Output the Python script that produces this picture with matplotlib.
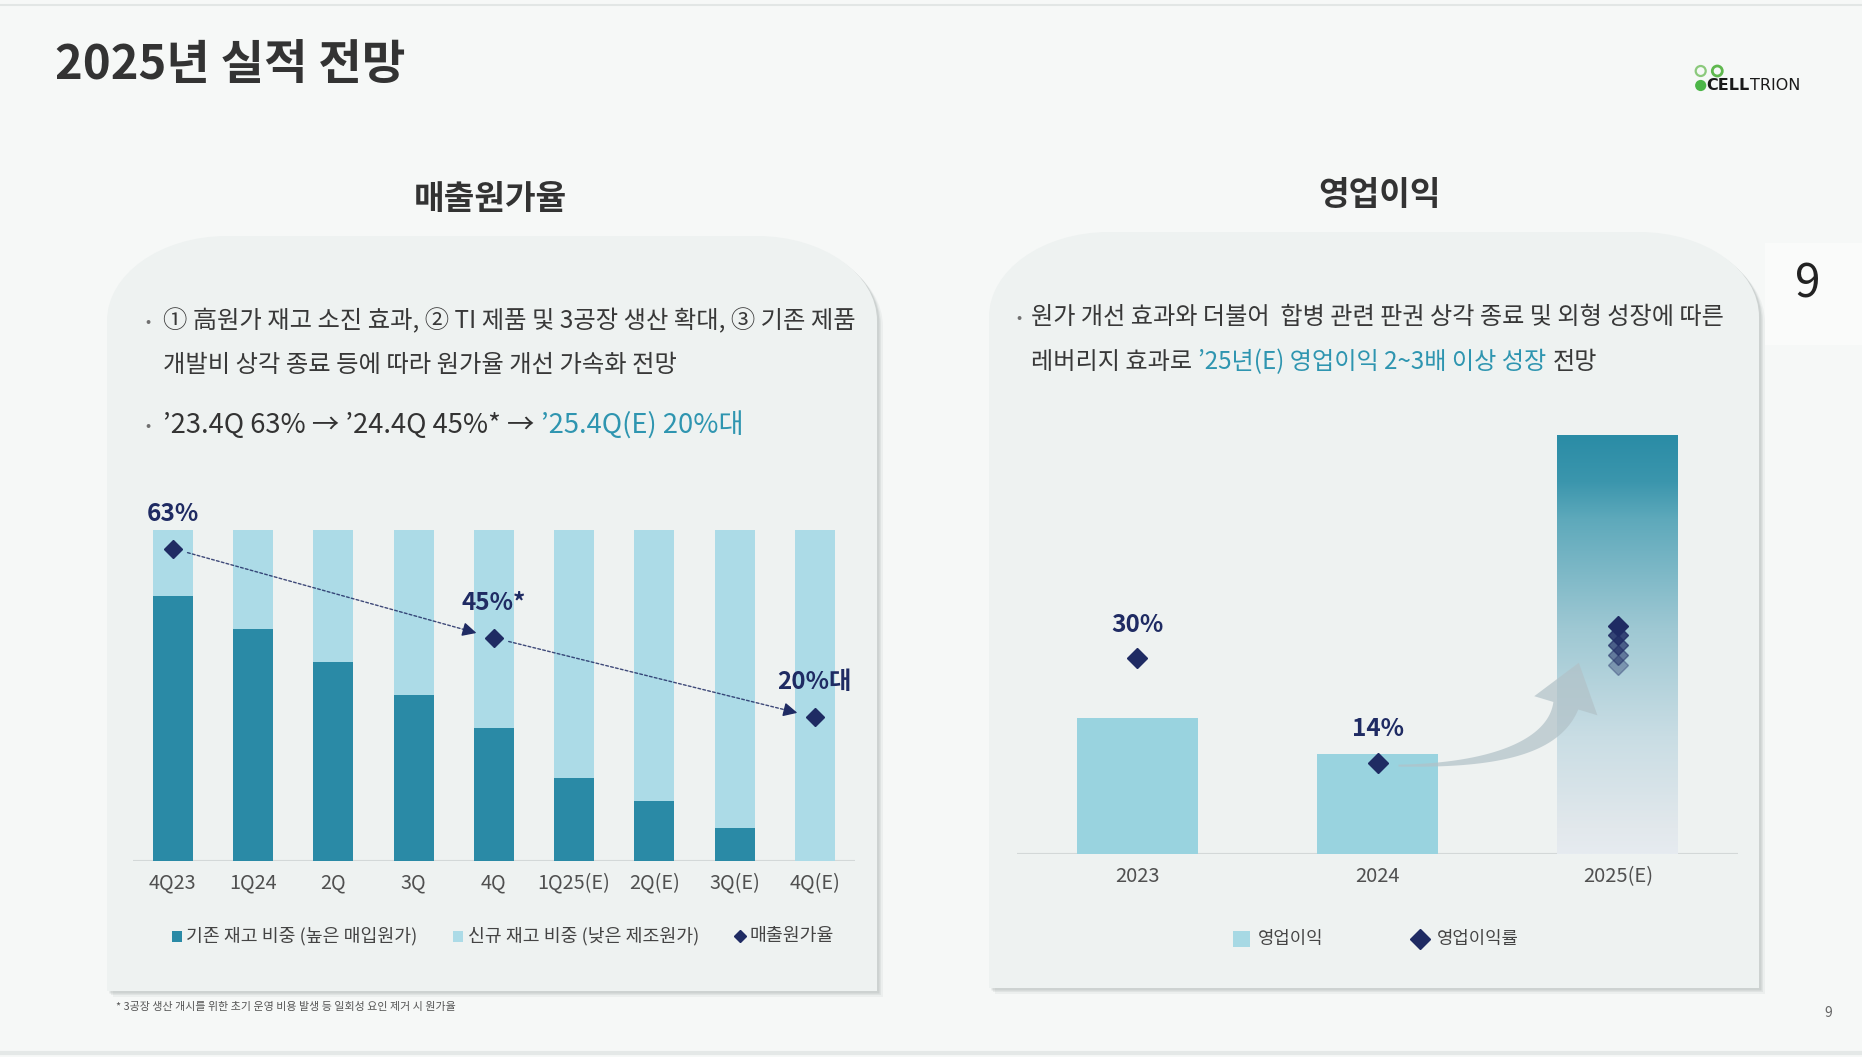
import numpy as np
import matplotlib
matplotlib.use("Agg")
import matplotlib.pyplot as plt
from matplotlib.patches import PathPatch, Rectangle, Circle, Polygon
from matplotlib.path import Path
from matplotlib.colors import LinearSegmentedColormap
from matplotlib.transforms import IdentityTransform

plt.rcParams['font.family'] = ['Noto Sans CJK KR', 'DejaVu Sans']

# ---------------- data ----------------
quarters = ['4Q23', '1Q24', '2Q', '3Q', '4Q', '1Q25(E)', '2Q(E)', '3Q(E)', '4Q(E)']
old_share = [80, 70, 60, 50, 40, 25, 18, 10, 0]        # 기존 재고 비중
new_share = [20, 30, 40, 50, 60, 75, 82, 90, 100]      # 신규 재고 비중
cogs_idx = [0, 4, 8]
cogs_ratio = [63, 45, 29]                              # 매출원가율
cogs_labels = ['63%', '45%*', '20%대']

years = ['2023', '2024', '2025(E)']
op_profit = [651, 480, 2010]                           # 영업이익
op_margin = [30, 14]                                   # 영업이익률
op_margin_labels = ['30%', '14%']
margin_2025_band = [29, 30.5, 32, 33.5, 35]

# ---------------- style ----------------
W, H = 1862, 1057
DARK = '#2a8aa6'
LIGHT = '#acdbe7'
OPBAR = '#99d3df'
NAVY = '#1f2b63'
TEAL = '#2e95b0'
TXT = '#383838'
CARD = '#eef2f1'
BODY_W = 'medium'

fig = plt.figure(figsize=(W / 100, H / 100), dpi=100)
fig.patch.set_facecolor('#f6f8f7')
bg = fig.add_axes([0, 0, 1, 1])
bg.set_xlim(0, W)
bg.set_ylim(H, 0)
bg.axis('off')
bg.set_zorder(0)

bg.plot([0, W], [5, 5], color='#e2e6e5', lw=1.5)
bg.plot([0, W], [1053, 1053], color='#e4e8e7', lw=3)
bg.add_patch(Rectangle((1765, 243), 97, 102, fc='white', ec='none', alpha=0.45))


def card_path(x0, x1, y0, y1, rx, ry):
    k = 0.5523
    verts = [(x0, y1), (x0, y0 + ry), (x0, y0 + ry - k * ry), (x0 + rx - k * rx, y0), (x0 + rx, y0),
             (x1 - rx, y0), (x1 - rx + k * rx, y0), (x1, y0 + ry - k * ry), (x1, y0 + ry),
             (x1, y1), (x0, y1)]
    codes = [Path.MOVETO, Path.LINETO, Path.CURVE4, Path.CURVE4, Path.CURVE4,
             Path.LINETO, Path.CURVE4, Path.CURVE4, Path.CURVE4, Path.LINETO, Path.CLOSEPOLY]
    return Path(verts, codes)


def card(x0, x1, y0, y1, rx, ry):
    for d, a in [(6, 0.10), (4, 0.15), (2.5, 0.25)]:
        bg.add_patch(PathPatch(card_path(x0 + d, x1 + d, y0 + d, y1 + d, rx, ry),
                               fc='#9aa2a2', ec='none', alpha=a))
    bg.add_patch(PathPatch(card_path(x0, x1, y0, y1, rx, ry), fc=CARD, ec='none'))


card(107, 877, 236, 991, 120, 85)
card(989, 1759, 232, 988, 120, 85)

renderer = fig.canvas.get_renderer()


def seg_text(x, y, segs, size, weight='normal'):
    for s, c, gap in segs:
        t = bg.text(x, y, s, color=c, fontsize=size, fontweight=weight, ha='left', va='center')
        bb = t.get_window_extent(renderer=renderer)
        x += bb.width + gap * size * 100 / 72


# titles
bg.text(55, 65, '2025년 실적 전망', fontsize=34, fontweight='bold', color='#333333', ha='left', va='center')
bg.text(490, 200, '매출원가율', fontsize=24, fontweight='bold', color='#333333', ha='center', va='center')
bg.text(1380, 195, '영업이익', fontsize=24, fontweight='bold', color='#333333', ha='center', va='center')

# logo
bg.add_patch(Circle((1700.7, 71), 5.0, fill=False, ec='#8bc97c', lw=1.6))
bg.add_patch(Circle((1717.3, 71), 5.0, fill=False, ec='#5fb84e', lw=2.0))
bg.add_patch(Circle((1700.7, 85.5), 5.6, fc='#4cb648', ec='none'))
t = bg.text(1706.5, 86, 'CELL', fontsize=11.5, fontweight='bold', family='DejaVu Sans',
            color='#1a1a1a', ha='left', va='center')
bb = t.get_window_extent(renderer=renderer)
bg.text(1706.5 + bb.width, 86, 'TRION', fontsize=11.5, family='DejaVu Sans',
        color='#1a1a1a', ha='left', va='center')

bg.text(1808, 284, '9', fontsize=33, color='#222222', ha='center', va='center')
bg.text(1828, 1013, '9', fontsize=10, color='#666666', ha='center', va='center')

# left bullets
bg.text(148.5, 322, '•', fontsize=11, color='#707070', ha='center', va='center')
bg.text(163, 321.5, '① 高원가 재고 소진 효과, ② TI 제품 및 3공장 생산 확대, ③ 기존 제품',
        fontsize=17.5, fontweight=BODY_W, color=TXT, ha='left', va='center')
bg.text(163, 365, '개발비 상각 종료 등에 따라 원가율 개선 가속화 전망',
        fontsize=17.5, fontweight=BODY_W, color=TXT, ha='left', va='center')
bg.text(148.5, 427, '•', fontsize=11, color='#707070', ha='center', va='center')
seg_text(163, 426, [('’23.4Q 63% → ’24.4Q 45%* →', '#333333', 0.25),
                    ('’25.4Q(E) 20%대', TEAL, 0)], 19.7, BODY_W)

# right bullets
bg.text(1019, 318, '•', fontsize=11, color='#707070', ha='center', va='center')
bg.text(1031, 316.5, '원가 개선 효과와 더불어  합병 관련 판권 상각 종료 및 외형 성장에 따른',
        fontsize=17.4, fontweight=BODY_W, color=TXT, ha='left', va='center')
seg_text(1031, 362, [('레버리지 효과로', TXT, 0.25),
                     ('’25년(E) 영업이익 2~3배 이상 성장', TEAL, 0.25),
                     ('전망', TXT, 0)], 17.4, BODY_W)

# footnote
bg.text(116, 1007, '* 3공장 생산 개시를 위한 초기 운영 비용 발생 등 일회성 요인 제거 시 원가율',
        fontsize=7.9, color='#555555', ha='left', va='center')


def ax_at(x0, x1, ytop, ybot):
    return fig.add_axes([x0 / W, 1 - ybot / H, (x1 - x0) / W, (ybot - ytop) / H])


# ---------------- left chart ----------------
axL = ax_at(132.7, 855, 529.7, 861)
axL.set_facecolor('none')
x = np.arange(len(quarters))
axL.bar(x, old_share, width=0.5, color=DARK, zorder=2)
axL.bar(x, new_share, bottom=old_share, width=0.5, color=LIGHT, zorder=2)
axL.set_xlim(-0.5, len(quarters) - 0.5)
axL.set_ylim(0, 100)
axL.axhline(0, color='#d3d8d8', lw=1.5, zorder=1)
for s in axL.spines.values():
    s.set_visible(False)
axL.set_yticks([])
axL.set_xticks(x, quarters)
axL.tick_params(axis='x', length=0, pad=8.5, labelsize=14.3, labelcolor='#505050')

axL2 = axL.twinx()
axL2.set_ylim(0, 66.8)
axL2.axis('off')
axL2.plot(cogs_idx, cogs_ratio, 'D', ms=9.5, color=NAVY, ls='none', zorder=5)
for i, v, lab in zip(cogs_idx, cogs_ratio, cogs_labels):
    axL2.annotate(lab, (i, v), xytext=(0, 25), textcoords='offset points', ha='center', va='center',
                  fontsize=17.5, fontweight='semibold', color=NAVY)
for k in range(len(cogs_idx) - 1):
    a = np.array([cogs_idx[k], cogs_ratio[k]], float)
    b = np.array([cogs_idx[k + 1], cogs_ratio[k + 1]], float)
    axL2.annotate('', xy=b, xytext=a,
                  arrowprops=dict(arrowstyle='-', color=NAVY, lw=1.0, ls=(0, (2, 1.6)),
                                  shrinkA=11, shrinkB=16, alpha=0.85))
    p = a + 0.93 * (b - a)
    axL2.annotate('', xy=b, xytext=p,
                  arrowprops=dict(arrowstyle='-|>,head_length=0.6,head_width=0.3', color=NAVY,
                                  lw=1.0, shrinkA=0, shrinkB=13, mutation_scale=14))

# left legend
bg.add_patch(Rectangle((172, 931), 10, 11, fc=DARK, ec='none'))
bg.text(186, 936, '기존 재고 비중 (높은 매입원가)', fontsize=13.2, color='#444444', ha='left', va='center')
bg.add_patch(Rectangle((452.6, 931), 10, 11, fc=LIGHT, ec='none'))
bg.text(467.5, 936, '신규 재고 비중 (낮은 제조원가)', fontsize=13.2, color='#444444', ha='left', va='center')
bg.plot([739.5], [936], 'D', ms=6.5, color=NAVY)
bg.text(749.6, 936, '매출원가율', fontsize=13.2, color='#444444', ha='left', va='center')

# ---------------- right chart ----------------
axR = ax_at(1017, 1738, 435, 854)
axR.set_facecolor('none')
xr = np.arange(len(years))
bars = axR.bar(xr, op_profit, width=0.503, color=[OPBAR, OPBAR, 'none'], zorder=2)
grad = LinearSegmentedColormap.from_list('g', [(0.0, '#e6ebf0'), (0.06, '#e2e8ec'), (0.28, '#c9dde4'),
                                               (0.54, '#9ec8d3'), (0.80, '#5ea9bb'), (0.89, '#3b96ad'),
                                               (1.0, '#2a8ca6')])
gb = bars[2]
im = axR.imshow(np.linspace(0, 1, 256).reshape(-1, 1), cmap=grad, origin='lower', aspect='auto',
                extent=(gb.get_x(), gb.get_x() + gb.get_width(), 0, gb.get_height()), zorder=2)
im.set_clip_path(gb)
axR.set_xlim(-0.5, len(years) - 0.5)
axR.set_ylim(0, max(op_profit))
axR.axhline(0, color='#d3d8d8', lw=1.5, zorder=1)
for s in axR.spines.values():
    s.set_visible(False)
axR.set_yticks([])
axR.set_xticks(xr, years)
axR.tick_params(axis='x', length=0, pad=8.5, labelsize=14.5, labelcolor='#505050')

axR2 = axR.twinx()
axR2.set_ylim(0, 64.2)
axR2.axis('off')
axR2.plot(xr[:2], op_margin, 'D', ms=10, color=NAVY, ls='none', zorder=6)
for i, v, lab in zip(xr[:2], op_margin, op_margin_labels):
    axR2.annotate(lab, (i, v), xytext=(0, 24), textcoords='offset points', ha='center', va='center',
                  fontsize=17.5, fontweight='semibold', color=NAVY)
alphas = np.linspace(0.35, 1.0, len(margin_2025_band))
for v, al in zip(margin_2025_band, alphas):
    axR2.plot([xr[2]], [v], 'D', ms=10, color=NAVY, alpha=al, zorder=6)

# tapered curved growth arrow from the 2024 margin to the 2025 margin band (display px)
pA = axR2.transData.transform((xr[1], op_margin[1])) + np.array([21.0, -3.0])
pE = axR2.transData.transform((xr[2], margin_2025_band[0])) + np.array([-52.0, -41.0])
tip = axR2.transData.transform((xr[2], margin_2025_band[0])) + np.array([-39.0, 2.0])
u = (tip - pE) / np.linalg.norm(tip - pE)
s_len = (pE[1] - pA[1]) / u[1]
pC = pE - u * s_len
tt = np.linspace(0, 1, 80)[:, None]
curve = (1 - tt) ** 2 * pA + 2 * (1 - tt) * tt * pC + tt ** 2 * pE
der = 2 * (1 - tt) * (pC - pA) + 2 * tt * (pE - pC)
nrm = np.column_stack([-der[:, 1], der[:, 0]])
nrm /= np.linalg.norm(nrm, axis=1)[:, None]
wid = (2 + 24 * tt[:, 0] ** 1.3)[:, None]
left = curve + nrm * wid / 2
right = curve - nrm * wid / 2
nE = np.array([-u[1], u[0]])
poly = np.vstack([left, pE + nE * 33, tip, pE - nE * 33, right[::-1]])
axR2.add_patch(Polygon(poly, closed=True, transform=IdentityTransform(), fc='#b2c2c8',
                       ec='none', alpha=0.72, zorder=5, clip_on=False))

# right legend
bg.add_patch(Rectangle((1233, 931), 17, 16, fc='#a7d9e4', ec='none'))
bg.text(1257.7, 939, '영업이익', fontsize=12.8, color='#444444', ha='left', va='center')
bg.plot([1420], [939], 'D', ms=10, color=NAVY)
bg.text(1437, 939, '영업이익률', fontsize=12.8, color='#444444', ha='left', va='center')

fig.savefig('out.png', dpi=100, facecolor=fig.get_facecolor())
